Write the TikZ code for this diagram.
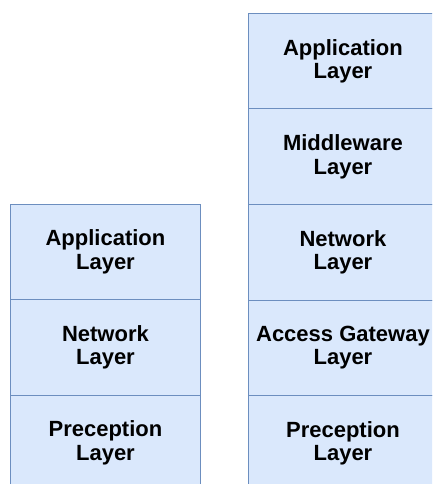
\documentclass[tikz,border=0pt]{standalone}
\usepackage{fontspec}
\setmainfont{Liberation Sans}
\definecolor{layerfill}{HTML}{DAE8FC}
\definecolor{layerdraw}{HTML}{6C8EBF}
\begin{document}
\begin{tikzpicture}[x=1pt,y=-1pt,
  layerbox/.style={rectangle, draw=layerdraw, fill=layerfill, line width=0.9pt,
    minimum width=190pt, minimum height=95.5pt, inner sep=0pt, anchor=north west,
    align=center, font=\fontsize{22}{23.4}\selectfont\bfseries}]
\useasboundingbox (0,0) rectangle (432,484);
\clip (0,0) rectangle (432,484);
% left stack
\node[layerbox] (lapp) at (10,203.5) {Application\\Layer};
\node[layerbox] (lnet) at (10,299) {Network\\Layer};
\node[layerbox] (lpre) at (10,394.5) {Preception\\Layer};
% right stack
\node[layerbox] (rapp) at (247.5,13) {Application\\Layer};
\node[layerbox] (rmid) at (247.5,108.5) {Middleware\\Layer};
\node[layerbox] (rnet) at (247.5,204) {Network\\Layer};
\node[layerbox] (racc) at (247.5,299.5) {Access Gateway\\Layer};
\node[layerbox] (rpre) at (247.5,395) {Preception\\Layer};
\end{tikzpicture}
\end{document}
